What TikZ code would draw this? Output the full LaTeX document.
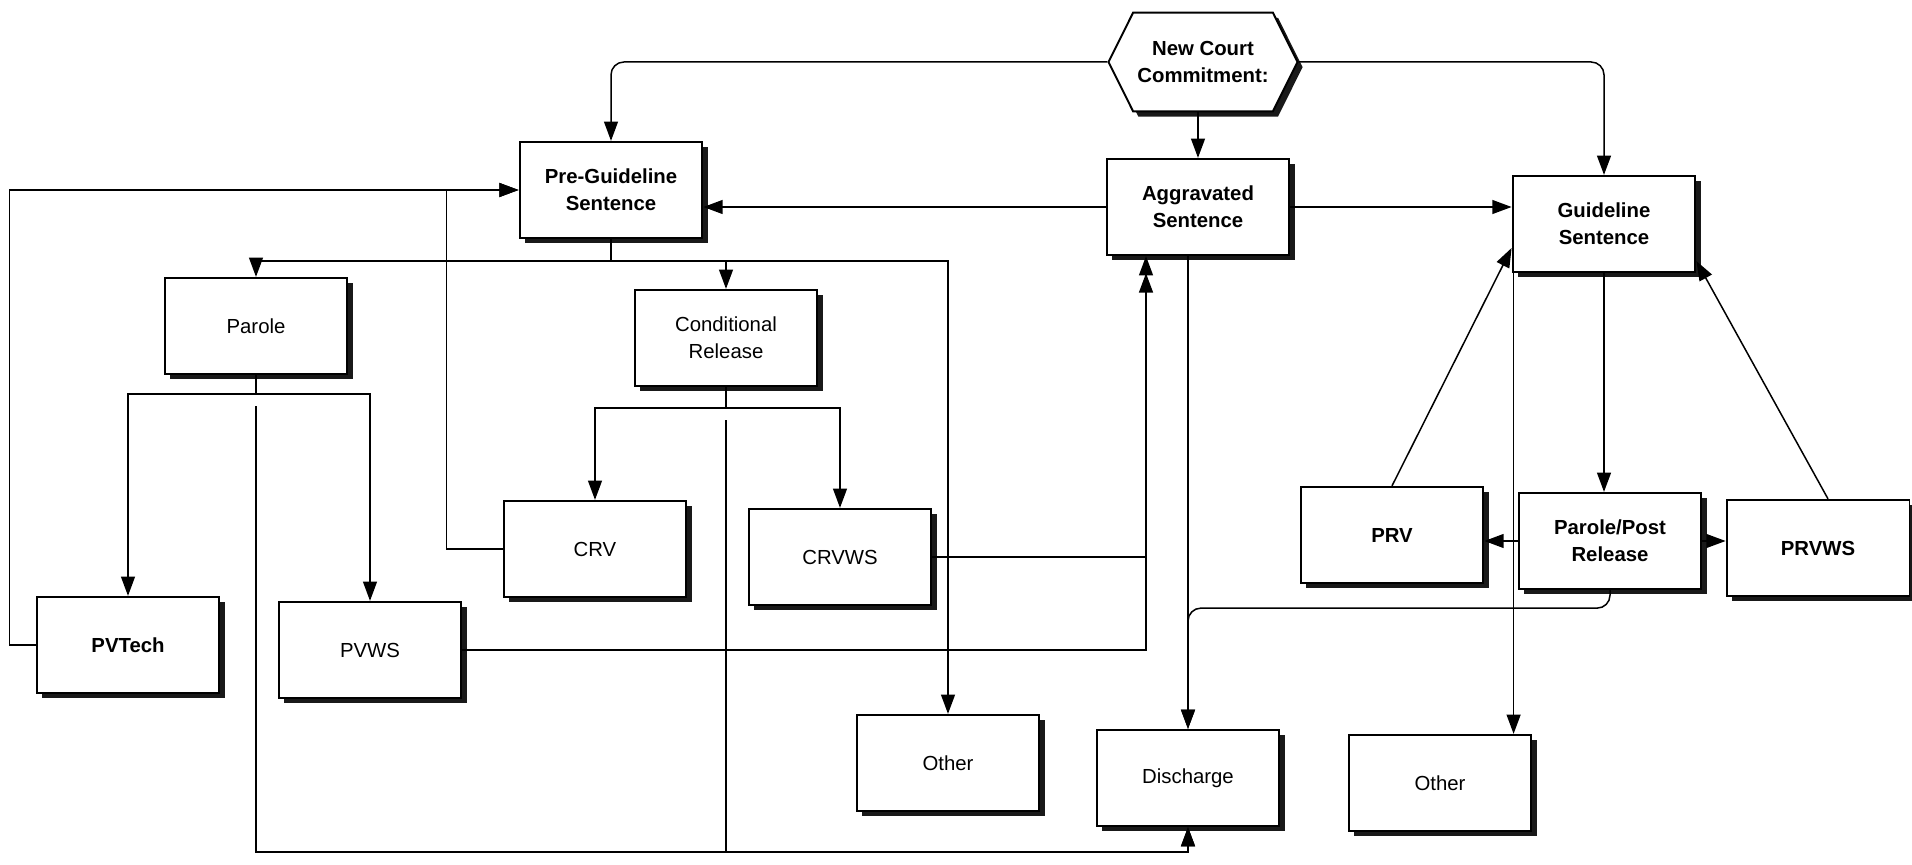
\documentclass[tikz,border=0pt]{standalone}
\usepackage{fontspec}
\setmainfont{Liberation Sans}
\usetikzlibrary{arrows.meta,shapes.symbols,shadows,calc}

\tikzset{
    box/.style={draw, line width=0.9pt, fill=white, align=center,
        minimum width=3cm, minimum height=1.58cm, inner sep=2pt,
        font=\fontsize{9.5}{12.5}\selectfont,
        drop shadow={shadow xshift=2.4pt, shadow yshift=-2.4pt, fill=black, opacity=0.9}},
    boldbox/.style={box, font=\fontsize{9.5}{12.5}\selectfont\bfseries},
    hexbox/.style={boldbox, signal, signal to=east and west,
        signal pointer angle=127, minimum width=3.1cm, minimum height=1.62cm},
    wire/.style={line width=0.7pt},
    link/.style={wire, -{Triangle[length=9pt,width=6.5pt]}}
}

\begin{document}
\begin{tikzpicture}[x=0.0164cm, y=-0.0164cm]
    \useasboundingbox (0,0) rectangle (1912,865);

    % Draw the boxes
    \node[hexbox] (court) at (1203,62) {New Court\\Commitment:};
    \node[boldbox] (pre) at (611,190) {Pre-Guideline\\Sentence};
    \node[boldbox] (aggr) at (1198,207) {Aggravated\\Sentence};
    \node[boldbox] (guide) at (1604,224) {Guideline\\Sentence};
    \node[box] (parole) at (256,326) {Parole};
    \node[box] (cond) at (726,338) {Conditional\\Release};
    \node[box] (crv) at (595,549) {CRV};
    \node[box] (crvws) at (840,557) {CRVWS};
    \node[boldbox] (pvtech) at (128,645) {PVTech};
    \node[box] (pvws) at (370,650) {PVWS};
    \node[box] (other1) at (948,763) {Other};
    \node[box] (disch) at (1188,778) {Discharge};
    \node[box] (other2) at (1440,783) {Other};
    \node[boldbox] (prv) at (1392,535) {PRV};
    \node[boldbox] (ppr) at (1610,541) {Parole/Post\\Release};
    \node[boldbox] (prvws) at (1818,548) {PRVWS};

    % Lines from the commitment
    \draw[link, rounded corners=6pt] (court.west) -| (pre.north);
    \draw[link, rounded corners=6pt] (court.east) -| (guide.north);
    \draw[link] (court.south -| aggr.north) -- (aggr.north);
    \draw[link] (aggr.west) -- (aggr.west -| pre.east);
    \draw[link] (aggr.east) -- (aggr.east -| guide.west);

    % Pre-guideline branches
    \coordinate (prebar) at ($(pre.south)+(0,22)$);
    \draw[wire] (pre.south) -- (prebar);
    \foreach \tgt in {parole, cond, other1}
        \draw[link] (prebar) -| (\tgt.north);

    \coordinate (parbar) at ($(parole.south)+(0,19)$);
    \draw[wire] (parole.south) -- (parbar);
    \foreach \tgt in {pvtech, pvws}
        \draw[link] (parbar) -| (\tgt.north);

    \coordinate (condbar) at ($(cond.south)+(0,21)$);
    \draw[wire] (cond.south) -- (condbar);
    \foreach \tgt in {crv, crvws}
        \draw[link] (condbar) -| (\tgt.north);

    % Down to discharge along the bottom
    \coordinate (low) at (0,852);
    \draw[link] ($(parbar)+(0,12)$) |- (disch.south |- low) -- (disch.south);
    \draw[link] ($(condbar)+(0,12)$) |- (disch.south |- low) -- (disch.south);

    % Violations back to the sentences
    \draw[link] (pvtech.west) -- ++(-26,0) |- (pre.west);
    \draw[link] (crv.west) -- ++(-56,0) |- (pre.west);
    \coordinate (aggrin) at ($(aggr.south)+(-52,0)$);
    \draw[link] (crvws.east) -| (aggrin);
    \draw[link, shorten >=8pt] (pvws.east) -| (aggrin);

    % Aggravated and guideline outcomes
    \draw[link] (aggr.south -| disch.north) -- (disch.north);
    \draw[link] (guide.south) -- (guide.south |- ppr.north);
    \coordinate (gsw) at ($(guide.south west)+(2,0)$);
    \draw[link] (gsw) -- (gsw |- other2.north);
    \draw[link] (prv.north) -- ($(guide.west)+(0,24)$);
    \draw[link] ($(prvws.north)+(10,0)$) -- ($(guide.south east)+(0,-12)$);
    \draw[link] (ppr.west) -- (ppr.west -| prv.east);
    \draw[link] (ppr.east) -- (ppr.east -| prvws.west);
    \draw[link, rounded corners=6pt] (ppr.south) -- ++(0,18) -| (disch.north);
\end{tikzpicture}
\end{document}
